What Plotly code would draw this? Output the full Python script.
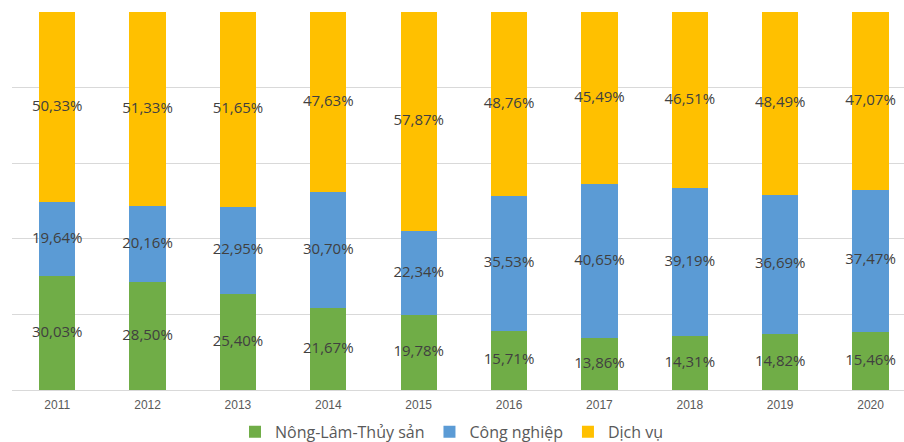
import plotly.graph_objects as go

years = ["2011", "2012", "2013", "2014", "2015", "2016", "2017", "2018", "2019", "2020"]
nong_lam_thuy_san = [30.03, 28.50, 25.40, 21.67, 19.78, 15.71, 13.86, 14.31, 14.82, 15.46]
cong_nghiep = [19.64, 20.16, 22.95, 30.70, 22.34, 35.53, 40.65, 39.19, 36.69, 37.47]
dich_vu = [50.33, 51.33, 51.65, 47.63, 57.87, 48.76, 45.49, 46.51, 48.49, 47.07]

series = [
    ("Nông-Lâm-Thủy sản", nong_lam_thuy_san, "#70AD47"),
    ("Công nghiệp", cong_nghiep, "#5B9BD5"),
    ("Dịch vụ", dich_vu, "#FFC000"),
]

fig = go.Figure()
base = [0.0] * len(years)
for name, vals, color in series:
    fig.add_trace(go.Bar(
        x=years, y=vals, name=name, marker=dict(color=color, line=dict(width=0)),
        width=0.4, hoverinfo="skip",
    ))
    mids = [b + v / 2 for b, v in zip(base, vals)]
    fig.add_trace(go.Scatter(
        x=years, y=mids, mode="text",
        text=[f"{v:.2f}%".replace(".", ",") for v in vals],
        textfont=dict(family="Open Sans, sans-serif", size=15, color="#404040"),
        showlegend=False, hoverinfo="skip",
    ))
    base = [b + v for b, v in zip(base, vals)]

fig.update_layout(
    barmode="stack",
    width=904, height=442,
    margin=dict(l=12, r=0, t=12, b=52, autoexpand=False),
    paper_bgcolor="white", plot_bgcolor="white",
    showlegend=True,
    legend=dict(orientation="h", x=0.5, xanchor="center", xref="container",
                y=0.023, yanchor="middle", yref="container",
                font=dict(family="Open Sans, sans-serif", size=16, color="#595959"),
                traceorder="normal", itemwidth=30),
    xaxis=dict(type="category", range=[-0.5, 9.37], showgrid=False, showline=False,
               ticks="", ticklabelstandoff=6,
               tickfont=dict(family="Liberation Sans, Arial, sans-serif", size=12, color="#595959")),
    yaxis=dict(range=[0, 100], dtick=20, showticklabels=False, showgrid=True,
               gridcolor="#D9D9D9", gridwidth=1, zeroline=True, zerolinecolor="#D9D9D9",
               zerolinewidth=1, showline=False, fixedrange=True),
)

fig.write_html("out.html")
